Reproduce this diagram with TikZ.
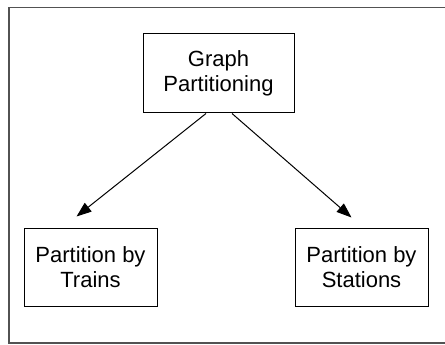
\documentclass[tikz,border=0pt]{standalone}
\usepackage{fontspec}
\setmainfont{Liberation Sans}
\usetikzlibrary{arrows.meta}
\begin{document}
\begin{tikzpicture}[x=1pt,y=-1pt,
  box/.style={draw=black, line width=1pt, align=center, inner sep=0pt,
    font=\fontsize{22}{25}\selectfont, minimum height=78pt},
  link/.style={draw=black, line width=1pt, -{Triangle[length=15pt,width=11pt]}}]
  \clip (0,0) rectangle (445,345);
  \fill[white] (0,0) rectangle (445,345);
  % outer frame, running past the right edge
  \draw[draw=black!68, line width=1.6pt] (9,7.5) rectangle (470,343);

  \node[box, minimum width=151pt, minimum height=79pt] (gp) at (218.5,73.5) {Graph\\Partitioning};
  \node[box, minimum width=133pt] (trains) at (90.5,267) {Partition by\\Trains};
  \node[box, minimum width=133pt] (stations) at (361.5,267) {Partition by\\Stations};

  \coordinate (tipL) at (76.5,216.5);
  \coordinate (tipR) at (351.5,217.5);
  \coordinate (srcL) at ([xshift=-12.5pt]gp.south);
  \coordinate (srcR) at ([xshift=13.5pt]gp.south);

  \draw[link] (srcL) -- (tipL);
  \draw[link] (srcR) -- (tipR);
\end{tikzpicture}
\end{document}
